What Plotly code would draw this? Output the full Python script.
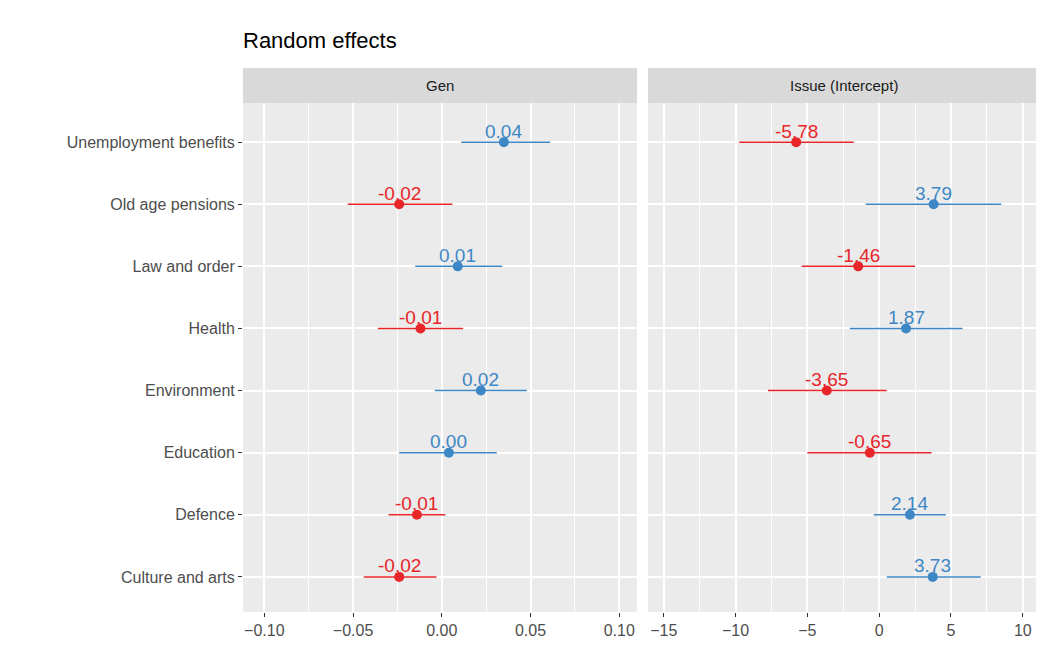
import plotly.graph_objects as go

cats = ["Unemployment benefits","Old age pensions","Law and order","Health",
        "Environment","Education","Defence","Culture and arts"]
gen = [0.035,-0.024,0.009,-0.012,0.022,0.004,-0.014,-0.024]
gen_lo = [0.011,-0.053,-0.015,-0.036,-0.004,-0.024,-0.030,-0.044]
gen_hi = [0.061,0.006,0.034,0.012,0.048,0.031,0.002,-0.003]
gen_lab = ["0.04","-0.02","0.01","-0.01","0.02","0.00","-0.01","-0.02"]
iss = [-5.78,3.79,-1.46,1.87,-3.65,-0.65,2.14,3.73]
iss_lo = [-9.75,-0.94,-5.4,-2.05,-7.75,-5.0,-0.38,0.53]
iss_hi = [-1.77,8.5,2.5,5.8,0.53,3.65,4.64,7.07]
iss_lab = ["-5.78","3.79","-1.46","1.87","-3.65","-0.65","2.14","3.73"]

BLUE, RED = "#3E87C6", "#E8262A"
W, H = 1036, 640
L, R, T, B = 235, 4, 95, 36
PW = W - L - R
PH = H - T - B
fig = go.Figure()

def add(vals, lo, hi, labs, xa, ya):
    for i, c in enumerate(cats):
        col = BLUE if vals[i] > 0 else RED
        fig.add_trace(go.Scatter(
            x=[vals[i]], y=[c], mode="markers",
            marker=dict(color=col, size=10),
            error_x=dict(type="data", symmetric=False, array=[hi[i]-vals[i]],
                         arrayminus=[vals[i]-lo[i]], color=col, thickness=1.5, width=0),
            xaxis=xa, yaxis=ya, showlegend=False, cliponaxis=False))
        fig.add_annotation(x=vals[i], y=c, xref=xa, yref=ya, text=labs[i], showarrow=False,
                           yshift=11, font=dict(size=19, color=col))

add(gen, gen_lo, gen_hi, gen_lab, "x", "y")
add(iss, iss_lo, iss_hi, iss_lab, "x2", "y2")

ax = dict(showgrid=True, gridcolor="white", gridwidth=1.6, zeroline=False,
          ticks="outside", ticklen=4, tickcolor="#333", tickfont=dict(size=16, color="#4D4D4D"))
d1 = 394/PW
d2 = 405/PW
yax = dict(showgrid=True, gridcolor="white", gridwidth=1.6, categoryorder="array",
           categoryarray=cats[::-1], range=[-0.565, 7.63], ticks="outside", ticklen=4,
           tickcolor="#333", tickfont=dict(size=16, color="#4D4D4D"))
fig.update_layout(
    width=W, height=H, paper_bgcolor="white", plot_bgcolor="#EBEBEB",
    margin=dict(l=L, r=R, t=T, b=B),
    font=dict(family="Liberation Sans, Arial, sans-serif"),
    xaxis=dict(ax, domain=[0, d1], range=[-0.112, 0.110], dtick=0.05, tickformat=".2f",
               anchor="y",
               minor=dict(showgrid=True, gridcolor="white", gridwidth=0.7, dtick=0.025)),
    xaxis2=dict(ax, domain=[d2, 1], range=[-16.1, 11.2], dtick=5, anchor="y2",
                minor=dict(showgrid=True, gridcolor="white", gridwidth=0.7, dtick=2.5)),
    yaxis=dict(yax, anchor="x"),
    yaxis2=dict(yax, anchor="x2", showticklabels=False, ticks="", matches="y"),
    title=dict(text="Random effects", x=235/W, xanchor="left", y=1-32/H, yanchor="middle",
               font=dict(size=22, color="black")),
)
for (x0, x1, t) in [(0, d1, "Gen"), (d2, 1, "Issue (Intercept)")]:
    fig.add_shape(type="rect", xref="paper", yref="paper", x0=x0, x1=x1,
                  y0=1.0, y1=1+35/PH, fillcolor="#D9D9D9", line_width=0)
    fig.add_annotation(text=t, xref="paper", yref="paper", x=(x0+x1)/2, y=1+17.5/PH,
                       xanchor="center", yanchor="middle",
                       showarrow=False, font=dict(size=15, color="#1A1A1A"))
fig.write_html("out.html")
